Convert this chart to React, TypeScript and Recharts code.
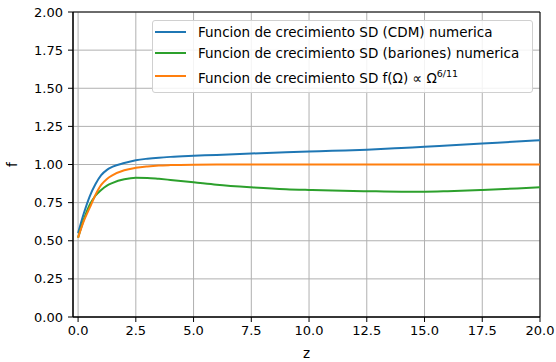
import React from 'react'
import { LineChart, Line, XAxis, YAxis, CartesianGrid, Legend, ReferenceArea } from 'recharts'

const Z = [0, 0.25, 0.5, 0.75, 1, 1.25, 1.5, 2, 2.5, 3, 3.5, 4, 5, 6, 7.5, 9, 10, 11, 12.5, 14, 15, 16, 17.5, 19, 20]
const CDM = [0.55, 0.68, 0.79, 0.87, 0.93, 0.965, 0.986, 1.01, 1.028, 1.038, 1.045, 1.05, 1.057, 1.063, 1.072, 1.08, 1.085, 1.09, 1.097, 1.108, 1.116, 1.124, 1.137, 1.151, 1.159]
const BARIONES = [0.52, 0.64, 0.735, 0.795, 0.833, 0.862, 0.88, 0.903, 0.913, 0.912, 0.906, 0.899, 0.884, 0.868, 0.851, 0.838, 0.833, 0.829, 0.825, 0.822, 0.822, 0.825, 0.833, 0.843, 0.851]
const APROX = [0.52, 0.63, 0.715, 0.8, 0.866, 0.905, 0.93, 0.962, 0.978, 0.987, 0.993, 0.996, 0.999, 1.0, 1.0, 1.0, 1.0, 1.0, 1.0, 1.0, 1.0, 1.0, 1.0, 1.0, 1.0]

const X_TICKS = [0, 2.5, 5, 7.5, 10, 12.5, 15, 17.5, 20]
const Y_TICKS = [0, 0.25, 0.5, 0.75, 1, 1.25, 1.5, 1.75, 2]

const FONT = 'DejaVu Sans, sans-serif'

const data = Z.map((z, i) => ({ z, cdm: CDM[i], bar: BARIONES[i], aprox: APROX[i] }))

function LegendBox({ payload }: any) {
  const rows = payload || []
  return (
    <div
      style={{
        border: '1px solid #d0d0d0',
        borderRadius: 3,
        background: 'rgba(255,255,255,0.85)',
        fontFamily: FONT,
        fontSize: 13.5,
        color: '#000',
        padding: '1px 0 4px 0',
        width: 381,
        boxSizing: 'border-box',
      }}
    >
      {rows.map((p: any) => (
        <div key={p.dataKey} style={{ display: 'flex', alignItems: 'center', height: p.dataKey === 'aprox' ? 25 : 20.5, whiteSpace: 'nowrap' }}>
          <span style={{ display: 'inline-block', width: 31, height: 2, background: p.color, marginLeft: 2, marginRight: 12 }} />
          {p.dataKey === 'aprox' ? (
            <span style={{ paddingTop: 3 }}>
              {'Funcion de crecimiento SD f(Ω) ∝ Ω'}
              <sup style={{ fontSize: 9.5 }}>6/11</sup>
            </span>
          ) : (
            <span>{p.value}</span>
          )}
        </div>
      ))}
    </div>
  )
}

export default function App() {
  return (
    <div style={{ position: 'absolute', left: 0, top: 0, background: '#fff' }}>
      <LineChart width={556} height={362} data={data} margin={{ top: 12, right: 16, bottom: 0, left: 0 }}>
        <CartesianGrid stroke="#b0b0b0" strokeWidth={1} />
        <XAxis
          dataKey="z"
          type="number"
          domain={[-0.22, 20]}
          allowDataOverflow
          ticks={X_TICKS}
          tickFormatter={(v) => v.toFixed(1)}
          height={45}
          tickSize={5}
          tickMargin={4}
          stroke="#000"
          tick={{ fill: '#000', fontSize: 13, fontFamily: FONT }}
          label={{ value: 'z', position: 'insideBottom', offset: 4, style: { fill: '#000', fontSize: 13.5, fontFamily: FONT } }}
        />
        <YAxis
          type="number"
          domain={[0, 2]}
          ticks={Y_TICKS}
          tickFormatter={(v) => v.toFixed(2)}
          width={73}
          tickSize={5}
          tickMargin={5}
          stroke="#000"
          tick={{ fill: '#000', fontSize: 13, fontFamily: FONT }}
          label={{ value: 'f', angle: -90, position: 'insideLeft', offset: 12, style: { fill: '#000', fontSize: 13.5, fontFamily: FONT, textAnchor: 'middle' } }}
        />
        <ReferenceArea x1={-0.22} x2={20} y1={0} y2={2} fill="none" stroke="#000" strokeWidth={1} ifOverflow="extendDomain" />
        <Line dataKey="cdm" name="Funcion de crecimiento SD (CDM) numerica" stroke="#1f77b4" strokeWidth={2} dot={false} type="monotone" isAnimationActive={false} />
        <Line dataKey="bar" name="Funcion de crecimiento SD (bariones) numerica" stroke="#2ca02c" strokeWidth={2} dot={false} type="monotone" isAnimationActive={false} />
        <Line dataKey="aprox" name="Funcion de crecimiento SD f(Ω) ∝ Ω^6/11" stroke="#ff7f0e" strokeWidth={2} dot={false} type="monotone" isAnimationActive={false} />
        <Legend
          layout="vertical"
          align="center"
          verticalAlign="middle"
          content={<LegendBox />}
          wrapperStyle={{ left: 152, top: 20, width: 381 }}
        />
      </LineChart>
    </div>
  )
}
